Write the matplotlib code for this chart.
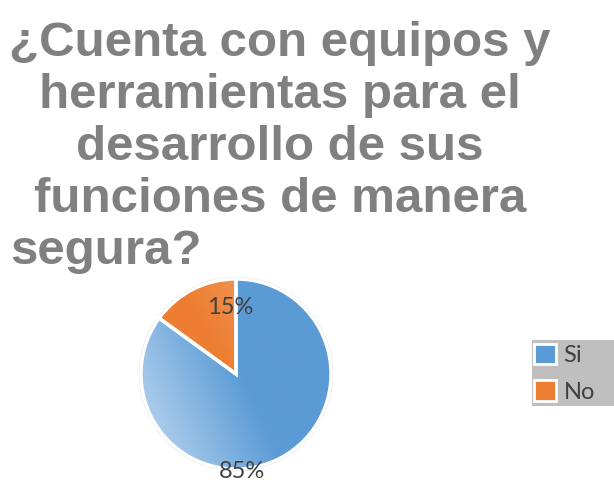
import numpy as np
import matplotlib
matplotlib.use('Agg')
import matplotlib.pyplot as plt
from matplotlib.patches import Rectangle, Circle, Patch
from matplotlib.colors import LinearSegmentedColormap

# datos
categorias = ['Si', 'No']
valores = [85, 15]
colores = ['#5B9BD5', '#ED7D31']
colores_claros = ['#A9CBEB', '#F3A36B']
titulo = ['¿Cuenta con equipos y', 'herramientas para el', 'desarrollo de sus',
          'funciones de manera', 'segura?']

W, H = 614, 480
fig = plt.figure(figsize=(W / 100, H / 100), dpi=100)

# titulo, una linea por texto
gris = '#808080'
for i, linea in enumerate(titulo):
    y = 1 - (56 + 52 * i) / H
    if i < len(titulo) - 1:
        fig.text(280 / W, y, linea, ha='center', va='baseline', fontsize=35.5,
                 fontweight='bold', family='Liberation Sans', color=gris)
    else:
        fig.text(10 / W, y, linea, ha='left', va='baseline', fontsize=35.5,
                 fontweight='bold', family='Liberation Sans', color=gris)

# pastel
cx, cy, r = 236, 374, 98
ax = fig.add_axes([(cx - r) / W, (H - cy - r) / H, 2 * r / W, 2 * r / H])
wedges, texts, autotexts = ax.pie(valores, colors=colores, startangle=90, counterclock=False,
                                  autopct='%1.0f%%', radius=0.97,
                                  wedgeprops=dict(edgecolor='white', linewidth=2.5),
                                  textprops=dict(fontsize=17, family='Lato', color='#404040'))
ax.set_xlim(-1, 1)
ax.set_ylim(-1, 1)
ax.set_aspect('equal')
ax.axis('off')

# degradado en cada sector
xs = np.linspace(-1, 1, 300)
X, Y = np.meshgrid(xs, xs)
direcciones = [np.deg2rad(205), np.deg2rad(30)]
for w, c, cl, a in zip(wedges, colores, colores_claros, direcciones):
    s = X * np.cos(a) + Y * np.sin(a)
    t = np.clip((s + 0.05) / 1.0, 0, 1)
    cmap = LinearSegmentedColormap.from_list('g', [c, cl])
    im = ax.imshow(t, cmap=cmap, extent=(-1, 1, -1, 1), origin='lower', zorder=1, vmin=0, vmax=1)
    im.set_clip_path(w)
    w.set_facecolor('none')
    w.set_zorder(3)

ax.add_patch(Circle((0, 0), 0.985, fill=False, edgecolor='#D9D9D9', lw=0.8, zorder=2))

# posicion de las etiquetas
autotexts[0].set_position((0.06, -1.0))
autotexts[1].set_position((-0.06, 0.68))
for t in autotexts:
    t.set_zorder(5)

# leyenda
fig.patches.append(Rectangle((532 / W, 1 - 406 / H), 90 / W, 66 / H, transform=fig.transFigure,
                             facecolor='#BFBFBF', edgecolor='none', zorder=0))
handles = [Patch(facecolor=c, edgecolor='white', linewidth=2) for c in colores]
fig.legend(handles, categorias, loc='upper left', bbox_to_anchor=(534 / W, 1 - 344 / H),
           frameon=False, borderaxespad=0, borderpad=0, handlelength=0.95, handleheight=0.95,
           handletextpad=0.3, labelspacing=0.6,
           prop=dict(size=17, family='Lato'), labelcolor='#404040')

fig.savefig('out.png', dpi=100, facecolor='white')
